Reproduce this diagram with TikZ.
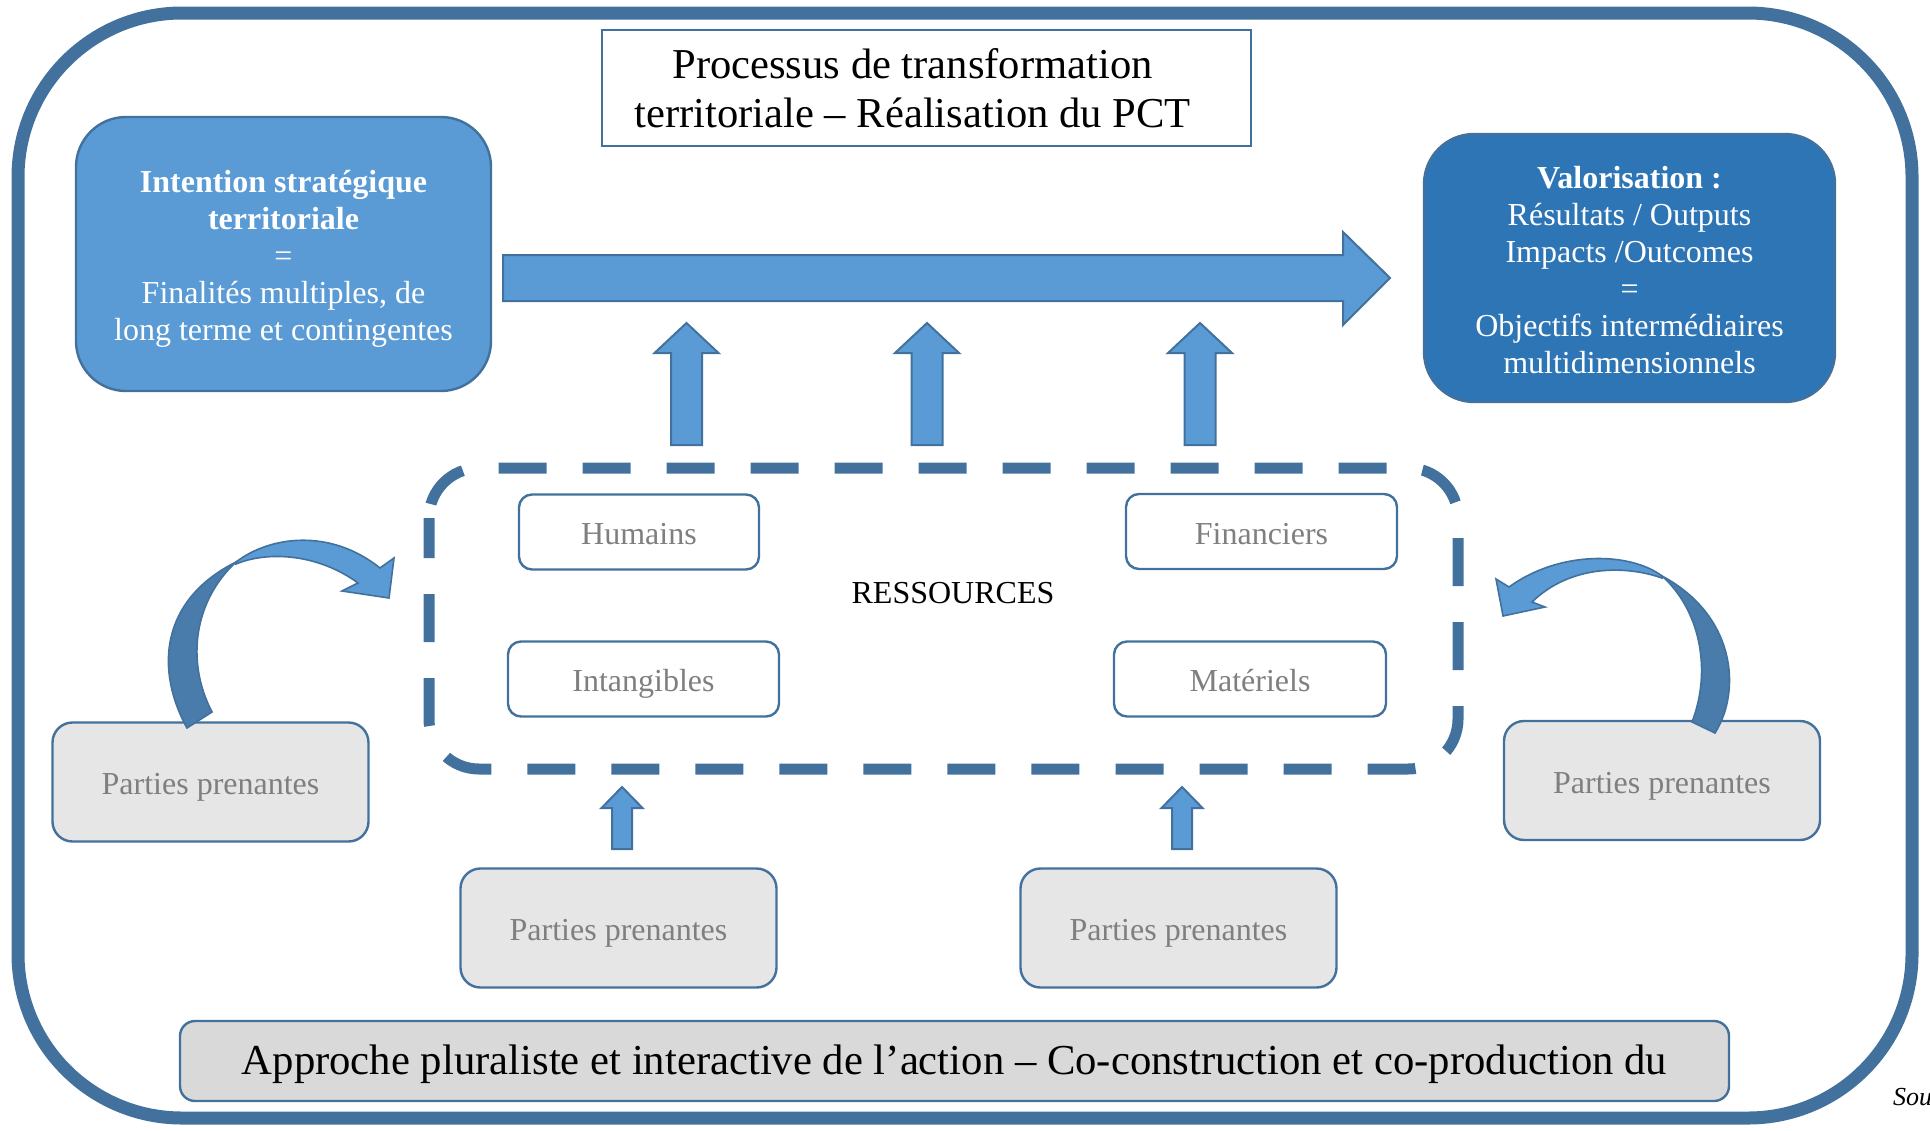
\documentclass[tikz,border=0pt]{standalone}
\usepackage{fontspec}
\setmainfont{Liberation Serif}
\usepackage{xcolor}
\definecolor{bleuclair}{HTML}{5B9BD5}
\definecolor{bleufonce}{HTML}{2E75B6}
\definecolor{bleutrait}{HTML}{41719C}
\definecolor{bleuombre}{HTML}{497CAA}
\definecolor{grisfond}{HTML}{E6E6E6}
\definecolor{grisbande}{HTML}{D9D9D9}
\definecolor{gristexte}{HTML}{7F7F7F}

% x, pointe, base de la tete, bas, demi-tige, demi-tete
\newcommand{\flechehaut}[6]{%
  \path[fill=bleuclair,draw=bleutrait,line width=1pt]
    ({#1-#5},#4) -- ({#1-#5},#3) -- ({#1-#6},#3) -- (#1,#2) -- ({#1+#6},#3)
    -- ({#1+#5},#3) -- ({#1+#5},#4) -- cycle;}

\begin{document}
\begin{tikzpicture}[x=0.5pt,y=-0.5pt,
  boite/.style={draw=bleutrait,line width=1.2pt,align=center,inner sep=0pt},
  texte/.style={font=\fontsize{16pt}{18.5pt}\selectfont},
  ligne/.style={text height=14pt,text depth=1.2pt},
  bleue/.style={boite,rounded corners=25pt},
  ressource/.style={boite,texte,ligne,fill=white,text=gristexte,rounded corners=6.5pt,minimum height=37.5pt},
  partie/.style={boite,texte,ligne,fill=grisfond,text=gristexte,rounded corners=10pt,minimum width=158pt,minimum height=59.5pt},
  cadre/.style={draw=bleutrait,line width=6.5pt,rounded corners=82pt},
  pointilles/.style={draw=bleutrait,line width=5.5pt,rounded corners=25pt,dash pattern=on 24pt off 18pt,dash phase=4pt}]
  \useasboundingbox (0,0) rectangle (1930,1130);
  \draw[cadre] (18,13) rectangle (1912,1118);

  \node[boite,fill=white,minimum width=324.5pt,minimum height=58pt] (titre) at (926.5,88) {};
  \node[align=center,font=\fontsize{21.3pt}{24.5pt}\selectfont,xshift=-7pt] (titretexte) at (titre)
    {Processus de transformation\\territoriale – Réalisation du PCT};
  \node[bleue,fill=bleuclair,minimum width=207.5pt,minimum height=137pt] (intention) at (283.5,254) {};
  \node[texte,align=center,text=white,yshift=-2.5pt] (intentiontexte) at (intention)
    {\textbf{Intention stratégique}\\\textbf{territoriale}\\=\\Finalités multiples, de\\long terme et contingentes};
  \node[bleue,fill=bleufonce,minimum width=205.5pt,minimum height=134pt] (valorisation) at (1629.5,268) {};
  \node[texte,align=center,text=white,yshift=-1.25pt] (valorisationtexte) at (valorisation)
    {\textbf{Valorisation :}\\Résultats / Outputs\\Impacts /Outcomes\\=\\Objectifs intermédiaires\\multidimensionnels};

  \path[fill=bleuclair,draw=bleutrait,line width=1pt] (503,255) -- (1343,255) -- (1343,232) -- (1390,278)
    -- (1343,325) -- (1343,301) -- (503,301) -- cycle;
  \flechehaut{686.5}{323}{353}{445}{15.5}{32}
  \flechehaut{927}{323}{353}{445}{15.5}{32}
  \flechehaut{1200}{323}{353}{445}{15.5}{32}

  \draw[pointilles] (429,468) rectangle (1458,769);
  \node[ressource,minimum width=120pt] (humains) at (639,532) {Humains};
  \node[ressource,minimum width=135.5pt] (intangibles) at (643.5,679) {Intangibles};
  \node[ressource,minimum width=135.5pt] (financiers) at (1261.5,531.5) {Financiers};
  \node[ressource,minimum width=136pt] (materiels) at (1250,679) {Matériels};
  \node[texte,text height=13pt,text depth=1.2pt] (ressources) at (953,592) {RESSOURCES};

  \node[partie] (ppgauche) at (210.5,782) {Parties prenantes};
  \node[partie] (ppdroite) at (1662,780.5) {Parties prenantes};
  \node[partie] (ppbasg) at (618.5,928) {Parties prenantes};
  \node[partie] (ppbasd) at (1178.5,928) {Parties prenantes};

  \path[fill=bleuombre,draw=bleutrait,line width=0.8pt] (187,728) .. controls (155,670) and (160,600) .. (236,562)
    .. controls (195,600) and (185,660) .. (212,712) -- cycle;
  \path[fill=bleuclair,draw=bleutrait,line width=0.8pt] (236,562) .. controls (270,536) and (330,528) .. (380,568)
    -- (394,558) -- (389,598) -- (342,591) -- (358,583) .. controls (320,555) and (270,550) .. (236,564) -- cycle;
  \path[fill=bleuombre,draw=bleutrait,line width=0.8pt] (1715,733) .. controls (1742,690) and (1735,615) .. (1662,576)
    .. controls (1700,610) and (1712,670) .. (1692,722) -- cycle;
  \path[fill=bleuclair,draw=bleutrait,line width=0.8pt] (1662,576) .. controls (1630,552) and (1560,550) .. (1509,587)
    -- (1496,579) -- (1503,616) -- (1545,607) -- (1532,602) .. controls (1570,565) and (1625,565) .. (1662,578) -- cycle;

  \flechehaut{622}{787}{808}{849}{10}{20.5}
  \flechehaut{1182}{787}{808}{849}{10}{20.5}

  \node[boite,fill=grisbande,rounded corners=7.5pt,minimum width=774.5pt,minimum height=40pt,
    font=\fontsize{21.35pt}{24pt}\selectfont,text height=15pt,text depth=1.4pt] (approche) at (954.5,1061)
    {Approche pluraliste et interactive de l’action – Co-construction et co-production du};
  \node[anchor=base west,font=\fontsize{13pt}{15pt}\selectfont\itshape] (source) at (1886,1105) {Sou};
\end{tikzpicture}
\end{document}
